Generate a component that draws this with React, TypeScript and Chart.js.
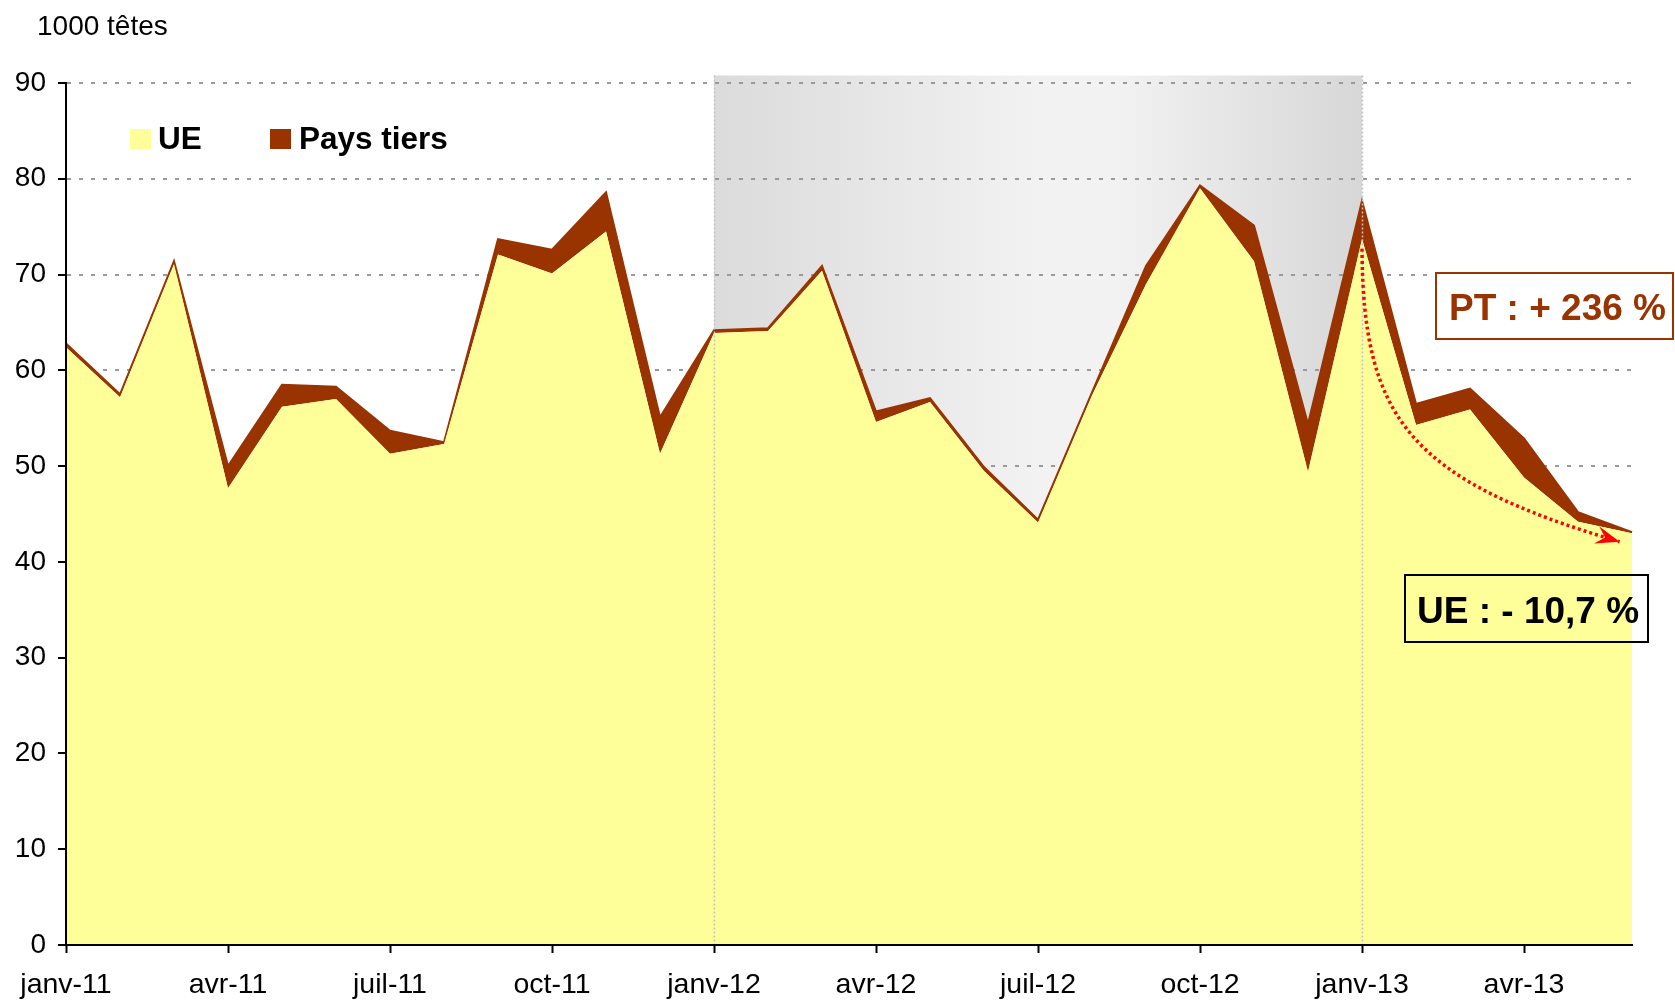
import React, { useEffect, useRef } from 'react';
import { Chart, registerables } from 'chart.js';

Chart.register(...registerables);

const months = [
  'janv-11', 'févr-11', 'mars-11', 'avr-11', 'mai-11', 'juin-11', 'juil-11', 'août-11', 'sept-11', 'oct-11', 'nov-11', 'déc-11',
  'janv-12', 'févr-12', 'mars-12', 'avr-12', 'mai-12', 'juin-12', 'juil-12', 'août-12', 'sept-12', 'oct-12', 'nov-12', 'déc-12',
  'janv-13', 'févr-13', 'mars-13', 'avr-13', 'mai-13', 'juin-13',
];

const ueValues = [
  62.4, 57.2, 71.1, 47.7, 56.2, 57.0, 51.3, 52.3, 72.1, 70.1, 74.5, 51.3,
  63.9, 64.1, 70.4, 54.6, 56.7, 49.5, 44.1, 57.4, 69.0, 79.0, 71.4, 49.4,
  73.7, 54.3, 55.9, 48.8, 44.2, 43.0,
];

const paysTiersValues = [
  0.4, 0.3, 0.3, 2.3, 2.3, 1.3, 2.4, 0.2, 1.6, 2.5, 4.1, 3.8,
  0.3, 0.3, 0.5, 1.1, 0.4, 0.4, 0.3, 0.3, 1.9, 0.3, 3.7, 5.0,
  4.0, 2.2, 2.2, 4.1, 1.0, 0.1,
];

const yTicks = [0, 10, 20, 30, 40, 50, 60, 70, 80, 90];

const seriesNames = ['UE', 'Pays tiers'];
const seriesColors = ['#ffff99', '#993300'];
const yTitle = '1000 têtes';
const ptLabel = 'PT : + 236 %';
const ueLabel = 'UE : - 10,7 %';
// highlighted period (month indices)
const bandStart = 12;
const bandEnd = 24;
// arrow path in data units (month index, value)
const arrowPath = [
  [24, 72.7],
  [24.02, 54.9],
  [24.88, 48.6],
  [28.77, 42.1],
];

const FONT = "'Liberation Sans', Arial, Helvetica, sans-serif";

export default function App() {
  const canvasRef = useRef<HTMLCanvasElement | null>(null);

  useEffect(() => {
    const canvas = canvasRef.current;
    if (!canvas) return;

    const bandPlugin = {
      id: 'band',
      beforeDraw(chart: any) {
        const { ctx, chartArea } = chart;
        const xs = chart.scales.x;
        const x0 = xs.getPixelForValue(bandStart);
        const x1 = xs.getPixelForValue(bandEnd);
        const g = ctx.createLinearGradient(x0, 0, x1, 0);
        g.addColorStop(0, '#dbdbdb');
        g.addColorStop(0.5, '#f2f2f2');
        g.addColorStop(0.62, '#f2f2f2');
        g.addColorStop(1, '#d7d7d7');
        ctx.save();
        ctx.fillStyle = g;
        ctx.fillRect(x0, chartArea.top - 7.5, x1 - x0, chartArea.bottom - chartArea.top + 7.5);
        ctx.restore();
      },
      afterDatasetsDraw(chart: any) {
        const { ctx, chartArea } = chart;
        const xs = chart.scales.x;
        ctx.save();
        ctx.strokeStyle = '#c4c4c4';
        ctx.lineWidth = 1.5;
        ctx.setLineDash([2, 2]);
        [bandStart, bandEnd].forEach((i) => {
          const x = Math.round(xs.getPixelForValue(i)) + 0.5;
          ctx.beginPath();
          ctx.moveTo(x, chartArea.top - 7.5);
          ctx.lineTo(x, chartArea.bottom);
          ctx.stroke();
        });
        ctx.restore();
      },
    };

    const overlayPlugin = {
      id: 'overlay',
      afterDraw(chart: any) {
        const { ctx } = chart;
        const xs = chart.scales.x;
        const ys = chart.scales.y;
        ctx.save();

        // axis title
        ctx.fillStyle = '#000';
        ctx.font = `28px ${FONT}`;
        ctx.textBaseline = 'alphabetic';
        ctx.textAlign = 'left';
        ctx.fillText(yTitle, 37, 35);

        // legend
        ctx.fillStyle = seriesColors[0];
        ctx.fillRect(130, 129, 21, 20);
        ctx.fillStyle = seriesColors[1];
        ctx.fillRect(270, 129, 21, 20);
        ctx.fillStyle = '#000';
        ctx.font = `bold 31.5px ${FONT}`;
        ctx.fillText(seriesNames[0], 158, 149);
        ctx.fillText(seriesNames[1], 299, 149);

        // dotted red arrow
        const pts = arrowPath.map(([m, v]) => [xs.getPixelForValue(m), ys.getPixelForValue(v)]);
        ctx.strokeStyle = '#ff0000';
        ctx.lineWidth = 3.5;
        ctx.setLineDash([3, 3]);
        ctx.beginPath();
        ctx.moveTo(pts[0][0], pts[0][1]);
        ctx.bezierCurveTo(pts[1][0], pts[1][1], pts[2][0], pts[2][1], pts[3][0], pts[3][1]);
        ctx.stroke();
        ctx.setLineDash([]);
        const dx = pts[3][0] - pts[2][0];
        const dy = pts[3][1] - pts[2][1];
        const len = Math.hypot(dx, dy);
        const ux = dx / len, uy = dy / len;
        const px = -uy, py = ux;
        const tx = pts[3][0], ty = pts[3][1];
        ctx.fillStyle = '#ff0000';
        ctx.beginPath();
        ctx.moveTo(tx, ty);
        ctx.lineTo(tx - ux * 24 + px * 9, ty - uy * 24 + py * 9);
        ctx.lineTo(tx - ux * 15, ty - uy * 15);
        ctx.lineTo(tx - ux * 24 - px * 9, ty - uy * 24 - py * 9);
        ctx.closePath();
        ctx.fill();

        // PT annotation box
        ctx.fillStyle = '#ffffff';
        ctx.fillRect(1436, 273, 237, 66);
        ctx.strokeStyle = '#993300';
        ctx.lineWidth = 2;
        ctx.strokeRect(1436, 273, 237, 66);
        ctx.fillStyle = '#993300';
        ctx.font = `bold 37px ${FONT}`;
        ctx.fillText(ptLabel, 1449, 320);

        // UE annotation box
        ctx.strokeStyle = '#000000';
        ctx.lineWidth = 2;
        ctx.strokeRect(1405, 575, 243, 67);
        ctx.fillStyle = '#000000';
        ctx.fillText(ueLabel, 1417, 623);

        ctx.restore();
      },
    };

    const chart = new Chart(canvas, {
      type: 'line',
      data: {
        labels: months,
        datasets: [
          {
            label: seriesNames[0],
            data: ueValues,
            backgroundColor: seriesColors[0],
            borderColor: seriesColors[0],
            borderWidth: 0,
            pointRadius: 0,
            fill: 'origin',
            tension: 0,
          },
          {
            label: seriesNames[1],
            data: paysTiersValues,
            backgroundColor: seriesColors[1],
            borderColor: seriesColors[1],
            borderWidth: 2,
            pointRadius: 0,
            fill: '-1',
            tension: 0,
          },
        ],
      },
      options: {
        animation: false,
        responsive: false,
        maintainAspectRatio: false,
        layout: { padding: { top: 83, right: 43, left: 0, bottom: 0 } },
        plugins: {
          legend: { display: false },
          tooltip: { enabled: false },
          title: { display: false },
        },
        scales: {
          x: {
            type: 'category',
            offset: false,
            afterFit: (scale: any) => {
              scale.height = 58;
            },
            grid: {
              drawOnChartArea: false,
              drawTicks: true,
              tickLength: 8,
              tickWidth: 2,
              tickColor: (ctx: any) => (ctx.index % 3 === 0 ? '#000000' : 'rgba(0,0,0,0)'),
              color: 'rgba(0,0,0,0)',
            },
            border: { display: true, color: '#000000', width: 2, z: 1 },
            ticks: {
              autoSkip: false,
              maxRotation: 0,
              minRotation: 0,
              padding: 15,
              color: '#000000',
              font: { family: FONT, size: 28.5 },
              callback: function (this: any, value: any, index: number) {
                return index % 3 === 0 ? months[index] : '';
              },
            },
          },
          y: {
            stacked: true,
            min: 0,
            max: 90,
            afterFit: (scale: any) => {
              scale.width = 66;
            },
            afterBuildTicks: (scale: any) => {
              scale.ticks = yTicks.map((v) => ({ value: v }));
            },
            grid: {
              color: '#999999',
              lineWidth: 2,
              drawTicks: true,
              tickLength: 8,
              tickWidth: 2,
              tickColor: '#000000',
              tickBorderDash: [],
            },
            border: { display: true, color: '#000000', width: 2, dash: [4, 8], z: 1 },
            ticks: {
              padding: 12,
              color: '#000000',
              font: { family: FONT, size: 28 },
            },
          },
        },
      },
      plugins: [bandPlugin, overlayPlugin],
    });

    return () => {
      chart.destroy();
    };
  }, []);

  return (
    <div style={{ position: 'absolute', left: 0, top: 0, width: 1675, height: 1003, background: '#ffffff' }}>
      <canvas ref={canvasRef} width={1675} height={1003} style={{ width: 1675, height: 1003, display: 'block' }} />
    </div>
  );
}
